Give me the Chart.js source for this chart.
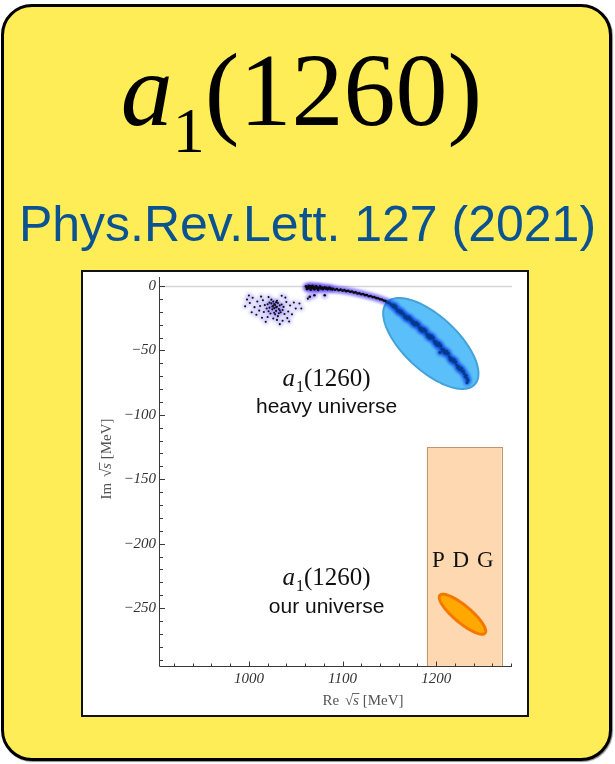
<!DOCTYPE html>
<html>
<head>
<meta charset="utf-8">
<script src="https://cdn.jsdelivr.net/npm/chart.js@4.4.1/dist/chart.umd.min.js"></script>
<style>
  html, body { margin: 0; padding: 0; background: #fff; }
  body { width: 615px; height: 764px; position: relative; overflow: hidden; }
  #card {
    position: absolute; left: 1px; top: 4px; width: 611px; height: 757px;
    box-sizing: border-box; border: 3px solid #000; border-radius: 31px;
    background: #FFED57; box-shadow: 1px 1px 1px rgba(0,0,0,0.45);
  }
  #title {
    position: absolute; left: 0; top: 38px; width: 603px; text-align: center;
    font-family: "Liberation Serif", "Times New Roman", serif;
    font-size: 104px; line-height: 104px; color: #000; white-space: nowrap;
  }
  #title i { font-style: italic; }
  #title .sub { font-size: 64px; position: relative; top: 27px; }
  #ref {
    position: absolute; left: 0; top: 199px; width: 615px; text-align: center;
    font-family: "Liberation Sans", Arial, sans-serif;
    font-size: 50px; line-height: 50px; color: #0A5291; white-space: nowrap;
  }
  #frame {
    position: absolute; left: 81px; top: 270px; width: 448px; height: 447px;
    box-sizing: border-box; border: 2px solid #111; background: #fff;
  }
  #plot { position: absolute; left: 83px; top: 272px; }
</style>
</head>
<body>
<div id="card"></div>
<div id="title"><i>a</i><span class="sub">1</span>(1260)</div>
<div id="ref">Phys.Rev.Lett. 127 (2021)</div>
<div id="frame"></div>
<canvas id="plot" width="444" height="443"></canvas>
<script>
// Pole positions (Re √s, Im √s) in MeV: scattered solutions at low Re
const clusterPoles = [
  [1020,-14.2],[1022,-16.8],[1024,-13.5],[1025,-18.1],[1026,-15.4],[1027,-17.2],[1028,-14.8],
  [1029,-19.3],[1030,-16.1],[1031,-13.2],[1032,-17.9],[1033,-15.0],[1034,-20.4],[1021,-19.6],
  [1023,-21.3],[1026,-12.1],[1028,-22.0],[1030,-11.5],[1032,-21.2],[1035,-14.3],[1036,-18.6],
  [1019,-17.5],[1024,-10.6],[1027,-20.8],[1029,-12.7],[1031,-23.4],[1033,-18.9],[1037,-16.2],
  [1038,-21.7],[1025,-15.9],[1027,-14.0],[1029,-16.6],[1022,-12.9],[1017,-14.8],[1016,-20.2],
  [998,-10.5],[1001,-13.2],[996,-15.8],[1004,-9.1],[1006,-16.4],[1009,-12.0],[1011,-19.1],
  [1008,-22.3],[1013,-8.2],[1014,-24.6],[1012,-15.5],[1015,-11.0],[1040,-12.4],[1042,-19.8],
  [1044,-15.1],[1041,-24.9],[1046,-22.0],[1048,-12.8],[1043,-27.5],[1036,-27.0],[1033,-29.6],
  [1030,-26.3],[1026,-25.2],[1020,-24.1],[1018,-27.8],[1039,-9.0],[1035,-7.5],[1050,-17.4],
  [1054,-13.6],[1003,-20.4],[1000,-7.4],[1021,-8.6],[1056,-17.5],[1063,-9.8]
];

// Pole trajectory of the a1(1260) in the heavy-pion universe
const trajectoryPoles = [
  [1061,-0.3],[1062,-1.2],[1063,-0.6],[1064,-1.8],[1065,-0.9],[1066,-0.2],[1067,-1.5],[1068,-0.8],
  [1069,-2.1],[1070,-1.1],[1071,-0.5],[1072,-1.7],[1073,-1.0],[1074,-2.3],[1075,-1.3],[1076,-0.7],
  [1077,-1.9],[1078,-1.2],[1079,-2.5],[1080,-1.5],[1081,-0.9],[1082,-2.0],[1083,-1.4],[1084,-2.6],
  [1085,-1.8],[1086,-1.2],[1087,-2.4],[1088,-1.9],[1089,-2.8],[1090,-2.1],
  [1062,-2.4],[1066,-2.9],[1070,-2.6],[1074,-3.1],[1064,0.2],[1068,0.1],[1072,-0.2],[1076,-0.4],
  [1092,-2.9],[1094,-2.4],[1096,-3.3],[1098,-2.8],[1100,-3.6],[1102,-3.2],[1104,-4.0],[1106,-3.7],
  [1108,-4.5],[1110,-4.2],[1112,-5.1],[1114,-4.9],[1116,-5.8],[1118,-5.6],[1120,-6.4],[1122,-6.2],
  [1124,-7.1],[1126,-7.0],[1128,-7.9],[1130,-7.7],[1132,-8.6],[1134,-8.6],[1136,-9.4],[1138,-9.5],
  [1140,-10.3],[1142,-10.5],[1144,-11.3],[1146,-11.7],[1148,-12.6],[1150,-13.2],
  [1152,-14.5],[1154,-15.9],[1156,-16.6],[1158,-18.3],[1160,-19.0],[1162,-20.8],[1164,-21.4],
  [1166,-23.0],[1168,-23.6],[1170,-25.3],[1172,-25.8],[1174,-27.5],[1176,-27.9],[1178,-29.9],
  [1180,-30.3],[1182,-32.2],[1184,-32.7],[1186,-34.8],[1188,-35.2],[1190,-37.4],[1192,-38.0],
  [1194,-40.1],[1196,-40.6],[1198,-42.9],[1200,-43.4],[1202,-45.8],[1204,-46.5],[1206,-48.9],
  [1208,-49.6],[1210,-52.1],[1212,-52.6],[1214,-55.0],[1216,-56.2],[1218,-58.3],[1220,-59.1],
  [1222,-61.4],[1224,-62.5],[1226,-64.8],[1228,-66.0],[1230,-68.1],[1232,-69.5],[1233,-71.8],
  [1234,-73.2],
  [1157,-16.0],[1161,-19.4],[1165,-21.6],[1169,-25.6],[1173,-25.9],[1177,-30.1],[1181,-30.0],
  [1185,-35.0],[1189,-34.9],[1193,-40.4],[1197,-40.3],[1201,-46.0],[1205,-46.4],[1209,-51.6],
  [1213,-52.3],[1217,-58.0],[1221,-59.0],[1225,-64.6],[1229,-66.2],
  [1155,-14.9],[1159,-19.6],[1163,-19.9],[1167,-24.4],[1171,-24.2],[1175,-29.0],[1179,-28.6],
  [1183,-33.9],[1187,-33.4],[1191,-39.1],[1195,-38.6],[1199,-44.5],[1203,-44.6],[1207,-50.5],
  [1211,-50.7],[1215,-57.0],[1219,-57.1],[1223,-63.3],[1227,-63.9],[1231,-70.3],
  [1065,-8.3],[1070,-7.2],[1081,-7.2],[1204,-51.6],[1233,-75.0]
];

const xTickLabels = [1000, 1100, 1200];
const yTickLabels = [0, -50, -100, -150, -200, -250];

// PDG band for the a1(1260): mass range and -Γ/2 range, MeV
const pdgRe = [1190, 1270];
const pdgIm = [-125, -300];

// Uncertainty ellipses: centre and two conjugate half-axes, MeV
const heavyEllipse    = { c: [1194.3, -44.6], u: [46.9, -31.8], v: [-19.7, -15.3] };
const physicalEllipse = { c: [1228.1, -254.8], u: [24.1, -14.7], v: [-5.84, -5.05] };

// Label anchors in axis units (centre x, baseline y)
const notes = {
  heavyName:  { x: 1083, y: -77.4 },
  heavyText:  { x: 1083, y: -98.8, text: 'heavy universe' },
  ourName:    { x: 1083, y: -232.1 },
  ourText:    { x: 1083, y: -254.1, text: 'our universe' },
  pdg:        { x: 1229, y: -217.9, text: 'P D G' }
};

const SERIF = '"Liberation Serif", "Times New Roman", serif';
const SANS = '"Liberation Sans", Arial, sans-serif';

function insideEllipse(e, x, y) {
  const dx = x - e.c[0], dy = y - e.c[1];
  const det = e.u[0] * e.v[1] - e.u[1] * e.v[0];
  const s = (dx * e.v[1] - dy * e.v[0]) / det;
  const t = (e.u[0] * dy - e.u[1] * dx) / det;
  return s * s + t * t <= 1;
}

function ellipsePath(ctx, xs, ys, e) {
  const cx = xs.getPixelForValue(e.c[0]), cy = ys.getPixelForValue(e.c[1]);
  const ux = xs.getPixelForValue(e.c[0] + e.u[0]) - cx, uy = ys.getPixelForValue(e.c[1] + e.u[1]) - cy;
  const vx = xs.getPixelForValue(e.c[0] + e.v[0]) - cx, vy = ys.getPixelForValue(e.c[1] + e.v[1]) - cy;
  ctx.beginPath();
  for (let i = 0; i <= 180; i++) {
    const t = i / 180 * Math.PI * 2;
    const px = cx + ux * Math.cos(t) + vx * Math.sin(t);
    const py = cy + uy * Math.cos(t) + vy * Math.sin(t);
    if (i === 0) ctx.moveTo(px, py); else ctx.lineTo(px, py);
  }
  ctx.closePath();
}

// Draws a run of text pieces centred on cx, sitting on a baseline
function drawRich(ctx, parts, cx, baseline) {
  let total = 0;
  parts.forEach(p => { ctx.font = p.font; p.w = ctx.measureText(p.text).width; total += p.w + (p.dx || 0); });
  let x = cx - total / 2;
  const spans = [];
  parts.forEach(p => {
    ctx.font = p.font;
    x += (p.dx || 0);
    ctx.fillText(p.text, x, baseline + (p.dy || 0));
    spans.push({ x, w: p.w });
    x += p.w;
  });
  return spans;
}

function particleName(size, subSize, subDrop) {
  return [
    { text: 'a', font: `italic ${size}px ${SERIF}` },
    { text: '1', font: `${subSize}px ${SERIF}`, dy: subDrop, dx: 1 },
    { text: '(1260)', font: `${size}px ${SERIF}` }
  ];
}

function axisTitle(ctx, prefix, cx, baseline) {
  const parts = [
    { text: prefix + ' ', font: `15px ${SERIF}` },
    { text: '\u221A', font: `15px ${SERIF}`, dx: 2 },
    { text: 's', font: `italic 15px ${SERIF}` },
    { text: ' [MeV]', font: `15px ${SERIF}` }
  ];
  const spans = drawRich(ctx, parts, cx, baseline);
  // vinculum over the s
  ctx.beginPath();
  ctx.lineWidth = 0.9;
  ctx.moveTo(spans[1].x + spans[1].w - 0.8, baseline - 11.5);
  ctx.lineTo(spans[2].x + spans[2].w + 0.5, baseline - 11.5);
  ctx.stroke();
}

const decor = {
  id: 'decor',
  beforeDatasetsDraw(chart) {
    const { ctx, chartArea: a, scales: { x: xs, y: ys } } = chart;
    ctx.save();
    ctx.beginPath();
    ctx.rect(a.left, a.top, a.right - a.left, a.bottom - a.top);
    ctx.clip();

    // zero line
    const y0 = Math.round(ys.getPixelForValue(0)) + 0.5;
    ctx.strokeStyle = '#d6d6d6';
    ctx.lineWidth = 1.3;
    ctx.beginPath(); ctx.moveTo(a.left, y0); ctx.lineTo(a.right, y0); ctx.stroke();

    // PDG band
    const bx0 = xs.getPixelForValue(pdgRe[0]), bx1 = xs.getPixelForValue(pdgRe[1]);
    const by0 = ys.getPixelForValue(pdgIm[0]), by1 = ys.getPixelForValue(pdgIm[1]);
    ctx.fillStyle = '#FDD8B1';
    ctx.fillRect(bx0, by0, bx1 - bx0, by1 - by0);
    ctx.strokeStyle = '#BF9670';
    ctx.lineWidth = 1;
    ctx.strokeRect(Math.round(bx0) + 0.5, Math.round(by0) + 0.5, Math.round(bx1 - bx0), by1 - by0);

    // physical-point ellipse
    ellipsePath(ctx, xs, ys, physicalEllipse);
    ctx.fillStyle = '#FFA800';
    ctx.fill();
    ctx.strokeStyle = '#F47800';
    ctx.lineWidth = 3;
    ctx.stroke();

    // heavy-universe ellipse
    ellipsePath(ctx, xs, ys, heavyEllipse);
    ctx.fillStyle = '#5BC0F9';
    ctx.fill();
    ctx.strokeStyle = '#45A2D9';
    ctx.lineWidth = 2;
    ctx.stroke();
    ctx.restore();
  },
  beforeDatasetDraw(chart, args) {
    const ctx = chart.ctx;
    ctx.save();
    const ds = chart.data.datasets[args.index];
    ctx.filter = ds.halo ? 'blur(1.6px)' : 'blur(0.35px)';
  },
  afterDatasetDraw(chart) {
    chart.ctx.restore();
  },
  afterDatasetsDraw(chart) {
    const { ctx, chartArea: a, scales: { x: xs, y: ys } } = chart;
    ctx.save();
    // axes with inward ticks
    ctx.strokeStyle = '#3a3a3a';
    ctx.lineWidth = 1;
    const left = Math.round(a.left) + 0.5, bottom = Math.round(a.bottom) + 0.5;
    ctx.beginPath();
    ctx.moveTo(left, a.top); ctx.lineTo(left, bottom);
    ctx.moveTo(left, bottom); ctx.lineTo(a.right, bottom);
    xs.ticks.forEach(t => {
      const px = Math.round(xs.getPixelForValue(t.value)) + 0.5;
      const len = t.value % 100 === 0 ? 5 : 3;
      ctx.moveTo(px, bottom); ctx.lineTo(px, bottom - len);
    });
    ys.ticks.forEach(t => {
      const py = Math.round(ys.getPixelForValue(t.value)) + 0.5;
      const len = t.value % 50 === 0 ? 5.5 : 3.5;
      ctx.moveTo(left, py); ctx.lineTo(left + len, py);
    });
    ctx.stroke();

    // annotations
    ctx.fillStyle = '#111';
    ctx.textAlign = 'left';
    ctx.textBaseline = 'alphabetic';
    const P = n => [xs.getPixelForValue(n.x), ys.getPixelForValue(n.y)];
    let p = P(notes.heavyName); drawRich(ctx, particleName(25, 16, 6), p[0], p[1]);
    p = P(notes.heavyText); drawRich(ctx, [{ text: notes.heavyText.text, font: `21px ${SANS}` }], p[0], p[1]);
    p = P(notes.ourName); drawRich(ctx, particleName(25, 16, 6), p[0], p[1]);
    p = P(notes.ourText); drawRich(ctx, [{ text: notes.ourText.text, font: `21px ${SANS}` }], p[0], p[1]);
    ctx.letterSpacing = '1px';
    p = P(notes.pdg); drawRich(ctx, [{ text: notes.pdg.text, font: `23px ${SERIF}` }], p[0], p[1]);
    ctx.letterSpacing = '0px';

    // axis titles
    ctx.fillStyle = '#555';
    ctx.strokeStyle = '#555';
    axisTitle(ctx, 'Re', 280, 433);
    ctx.save();
    ctx.translate(28, 187);
    ctx.rotate(-Math.PI / 2);
    axisTitle(ctx, 'Im', 0, 0);
    ctx.restore();
    ctx.restore();
  }
};

const inHeavy = r => r && insideEllipse(heavyEllipse, r.x, r.y);
const coreColour = ctx => inHeavy(ctx.raw) ? '#003c8a' : '#0b0b0b';
const coreRadius = ctx => inHeavy(ctx.raw) ? 1.6 : 1.3;
const haloColour = ctx => inHeavy(ctx.raw) ? 'rgba(20,70,235,0.5)' : 'rgba(105,80,255,0.42)';
const asPoints = arr => arr.map(([x, y]) => ({ x, y }));

new Chart(document.getElementById('plot'), {
  type: 'scatter',
  data: {
    datasets: [
      {
        data: asPoints(clusterPoles), order: 1,
        pointRadius: 1.05, pointBorderWidth: 0,
        pointBackgroundColor: '#111', backgroundColor: '#111'
      },
      {
        data: asPoints(trajectoryPoles), order: 1,
        pointRadius: coreRadius, pointBorderWidth: 0,
        pointBackgroundColor: coreColour, backgroundColor: coreColour
      },
      {
        data: asPoints(clusterPoles), order: 2, halo: true,
        pointRadius: 3, pointBorderWidth: 0,
        pointBackgroundColor: 'rgba(120,100,255,0.28)', backgroundColor: 'rgba(120,100,255,0.28)'
      },
      {
        data: asPoints(trajectoryPoles), order: 2, halo: true,
        pointRadius: 3.4, pointBorderWidth: 0,
        pointBackgroundColor: haloColour, backgroundColor: haloColour
      }
    ]
  },
  options: {
    responsive: false,
    animation: false,
    events: [],
    layout: { autoPadding: false, padding: { left: 0, top: 5, right: 15, bottom: 0 } },
    plugins: { legend: { display: false }, tooltip: { enabled: false } },
    scales: {
      x: {
        type: 'linear', min: 904, max: 1281,
        afterFit(s) { s.height = 49; s.paddingLeft = 0; s.paddingRight = 0; },
        grid: { display: false, drawTicks: false },
        border: { display: false },
        ticks: {
          stepSize: 20, includeBounds: false, autoSkip: false, maxRotation: 0, padding: 4,
          color: '#333',
          font: { family: SERIF, style: 'italic', size: 15 },
          callback: v => xTickLabels.includes(v) ? String(v) : ''
        }
      },
      y: {
        type: 'linear', min: -295, max: 7,
        afterFit(s) { s.width = 76; s.paddingTop = 0; s.paddingBottom = 0; },
        grid: { display: false, drawTicks: false },
        border: { display: false },
        ticks: {
          stepSize: 10, includeBounds: false, autoSkip: false, padding: 3,
          color: '#333',
          font: { family: SERIF, style: 'italic', size: 15 },
          callback: v => yTickLabels.includes(v) ? (v === 0 ? '0' : '\u2212' + Math.abs(v)) : ''
        }
      }
    }
  },
  plugins: [decor]
});
</script>
</body>
</html>
